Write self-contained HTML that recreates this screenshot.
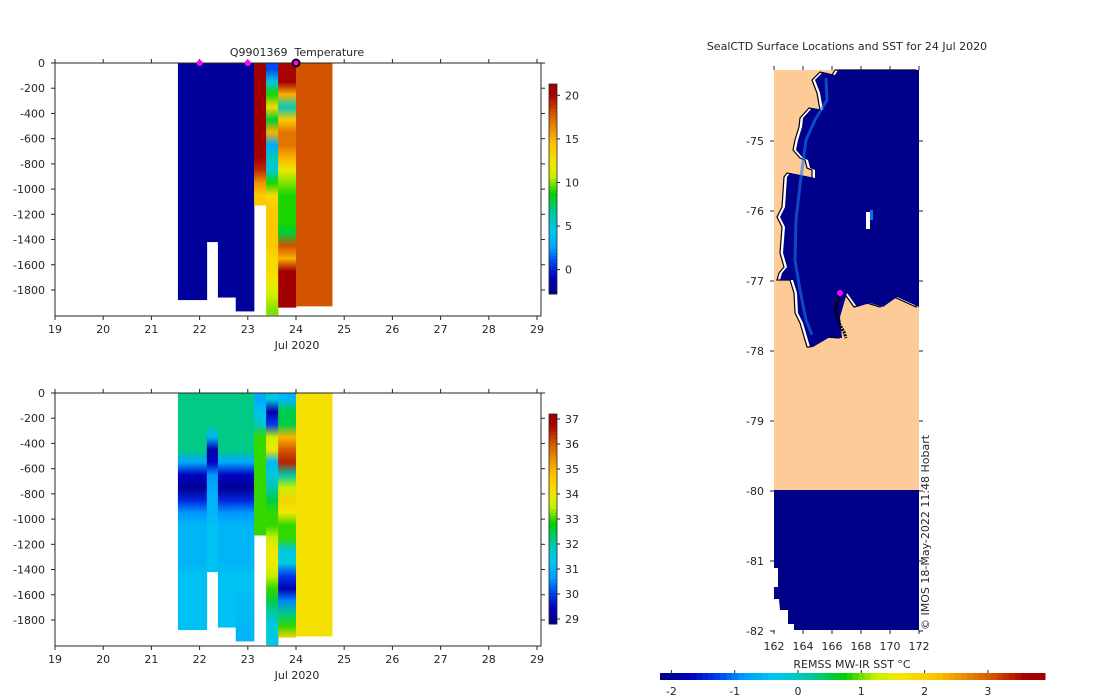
<!DOCTYPE html>
<html><head><meta charset="utf-8">
<style>
body{margin:0;background:#fff;}
svg{display:block;font-family:"DejaVu Sans","Liberation Sans",sans-serif;}
text{fill:#262626;font-size:11px;}
</style></head>
<body>
<svg id="fig" width="1100" height="700" viewBox="0 0 1100 700" xmlns="http://www.w3.org/2000/svg">
<defs id="defs"></defs>
<g id="g1"></g>
<g id="g2"></g>
<g id="g3"></g>
</svg>
<script>
// ---- profile data (time in days of Jul 2020, depth bins of 100 m) ----
const profStart = [21.55, 22.15, 22.38, 22.75, 23.13, 23.38, 23.63, 24.0];
const profEnd   = [22.15, 22.38, 22.75, 23.13, 23.38, 23.63, 24.0, 24.75];
const profBottomT = [1880, 1420, 1860, 1970, 1130, 2000, 1940, 1930];
const profBottomS = [1880, 1420, 1860, 1970, 1130, 2000, 1940, 1930];
const tempVals = [
 [-2,-2,-2,-2,-2,-2,-2,-2,-2,-2,-2,-2,-2,-2,-2,-2,-2,-2,-2],
 [-2,-2,-2,-2,-2,-2,-2,-2,-2,-2,-2,-2,-2,-2,-2],
 [-2,-2,-2,-2,-2,-2,-2,-2,-2,-2,-2,-2,-2,-2,-2,-2,-2,-2,-2],
 [-2,-2,-2,-2,-2,-2,-2,-2,-2,-2,-2,-2,-2,-2,-2,-2,-2,-2,-2,-2],
 [21,21,21,21,21,21,21,21,19,16,14,14],
 [1,5,9,13,8,15,3,6,5,9,13,14,14,14,14,13,13,12,11,10],
 [20,21,15,6,14,17,17,15,12,10,9,9,9,8,18,15,21,21,21,21],
 [18,18,18,18,18,18,18,18,18,18,18,18,18,18,18,18,18,18,18,18]
];
const salVals = [
 [32.2,32.2,32.2,32.2,32.2,30.8,29.5,29,29.8,30.6,31,31,31,31,31.2,31.2,31.2,31.2,31.2],
 [32.2,32.2,32.2,31,29.2,29.5,30.6,30.8,31,31,31.2,31.2,31.2,31.2,31.2],
 [32.2,32.2,32.2,32.2,32.2,30.8,29.5,29,29.8,30.6,31,31,31,31,31.2,31.2,31.2,31.2,31.2],
 [32.2,32.2,32.2,32.2,32.2,30.8,29.5,29,29.8,30.6,31,31,31,31,31.2,31.2,31.1,31.1,31,31],
 [30.8,31.2,31.8,33,33,33,33,33,33,33,33,33],
 [31.5,29.2,30,33.5,34,31,31.5,32,32.5,33,33,33.5,34,34,33.5,33,32.5,32,31.5,31.5],
 [31,32.5,32.5,35,36,36.5,32,33.5,34.5,34,33,33,31.5,31.5,30,29.3,30.5,32.2,33,34.5],
 [34.2,34.2,34.2,34.2,34.2,34.2,34.2,34.2,34.2,34.2,34.2,34.2,34.2,34.2,34.2,34.2,34.2,34.2,34.2,34.2]
];
const markerDays = [22.0, 23.0];
const currentDay = [24.0];
const xTicks = [19,20,21,22,23,24,25,26,27,28,29];
const yTicks = [0,-200,-400,-600,-800,-1000,-1200,-1400,-1600,-1800];
const tempCbTicks = [0,5,10,15,20];
const salCbTicks = [29,30,31,32,33,34,35,36,37];
const lonTicks = [162,164,166,168,170,172];
const latTicks = [-75,-76,-77,-78,-79,-80,-81,-82];
const sstTicks = [-2,-1,0,1,2,3];

const NS='http://www.w3.org/2000/svg';
function el(tag, attrs, parent){const e=document.createElementNS(NS,tag);for(const k in attrs)e.setAttribute(k,attrs[k]);parent.appendChild(e);return e;}
const defs=document.getElementById('defs');

const stops=[[0,[0,0,128]],[0.08,[0,0,192]],[0.15,[0,64,240]],[0.22,[0,160,255]],[0.3,[0,200,240]],[0.38,[0,200,176]],[0.48,[0,208,0]],[0.56,[200,240,0]],[0.62,[240,232,0]],[0.72,[255,192,0]],[0.85,[216,96,0]],[0.95,[168,0,0]],[1,[160,0,0]]];
function cmap(t){t=Math.max(0,Math.min(1,t));for(let i=1;i<stops.length;i++){if(t<=stops[i][0]){const a=stops[i-1],b=stops[i];const f=(t-a[0])/(b[0]-a[0]);const c=a[1].map((v,j)=>Math.round(v+(b[1][j]-v)*f));return `rgb(${c[0]},${c[1]},${c[2]})`;}}return 'rgb(160,0,0)';}

let gid=0;
function section(g, top, vals, bottoms, vmin, vmax, cbTicks, withTitle){
  const L=55,R=541,T=top,B=top+253;
  const xs=d=>55+(d-19)*48.2;
  const ys=z=>T+z*0.1261;
  for(let p=0;p<vals.length;p++){
    const v=vals[p];
    const id='grad'+(gid++);
    const lg=el('linearGradient',{id:id,gradientUnits:'userSpaceOnUse',x1:0,x2:0,y1:ys(0),y2:ys(bottoms[p])},defs);
    for(let i=0;i<v.length;i++){
      const mid=Math.min(i*100+50,bottoms[p]);
      if(i*100>=bottoms[p])break;
      el('stop',{offset:(mid/bottoms[p]).toFixed(4),'stop-color':cmap((v[i]-vmin)/(vmax-vmin))},lg);
    }
    const r=el('rect',{x:xs(profStart[p]),y:ys(0),width:xs(profEnd[p])-xs(profStart[p])+0.3,height:ys(bottoms[p])-ys(0),fill:`url(#${id})`},g);
    
    
  }
  const box=el('rect',{x:L,y:T,width:R-L,height:B-T,fill:'none',stroke:'#262626','stroke-width':1},g);
  
  xTicks.forEach(d=>{const x=xs(d);
    el('line',{x1:x,y1:B,x2:x,y2:B+4,stroke:'#262626'},g);
    el('line',{x1:x,y1:T,x2:x,y2:T-4,stroke:'#262626'},g);
    const t=el('text',{x:x,y:B+17,'text-anchor':'middle'},g);t.textContent=d;
    });
  yTicks.forEach(z=>{const y=ys(-z);
    el('line',{x1:L,y1:y,x2:L-4,y2:y,stroke:'#262626'},g);
    el('line',{x1:R,y1:y,x2:R+4,y2:y,stroke:'#262626'},g);
    const t=el('text',{x:45,y:y+4,'text-anchor':'end'},g);t.textContent=z;
    });
  const xl=el('text',{x:297,y:B+33,'text-anchor':'middle'},g);xl.textContent='Jul 2020';
  
  const cT=T+21,cB=T+231,cL=549,cW=8;
  const N=60;
  for(let i=0;i<N;i++){const r=el('rect',{x:cL,y:cB-(i+1)*(cB-cT)/N,width:cW,height:(cB-cT)/N+0.5,fill:cmap((i+0.5)/N)},g);
    }
  el('rect',{x:cL,y:cT,width:cW,height:cB-cT,fill:'none',stroke:'#262626','stroke-width':0.8},g);
  cbTicks.forEach(v=>{const y=cB-(v-vmin)/(vmax-vmin)*(cB-cT);
    el('line',{x1:cL+cW,y1:y,x2:cL+cW+3,y2:y,stroke:'#262626'},g);
    const t=el('text',{x:565,y:y+4},g);t.textContent=v;
    });
  if(withTitle){
    const t=el('text',{x:297,y:T-7,'text-anchor':'middle','font-size':'12'},g);t.textContent='Q9901369  Temperature';
    t.setAttribute('xml:space','preserve');t.style.whiteSpace='pre';
    
    markerDays.forEach(d=>{const c=el('circle',{cx:xs(d),cy:T,r:3,fill:'#ff00ff'},g);
      });
    currentDay.forEach(d=>{const c=el('circle',{cx:xs(d),cy:T,r:3.5,fill:'#ff00ff',stroke:'#000','stroke-width':2},g);
      });
  }
}
section(document.getElementById('g1'),63,tempVals,profBottomT,-2.8,21.3,tempCbTicks,true);
section(document.getElementById('g2'),393,salVals,profBottomS,28.8,37.2,salCbTicks,false);

// ---- map ----
(function(){
 const g=document.getElementById('g3');
 const lx=v=>774+(v-162)*14.5, ly=v=>141+(-75-v)*70;
 const t=el('text',{x:847,y:50,'text-anchor':'middle'},g);t.textContent='SealCTD Surface Locations and SST for 24 Jul 2020';
 
 const land=el('rect',{x:774,y:70,width:145,height:420,fill:'#fdcb98'},g);
 
 const pts='838,70 835,75 823,72 815,80 820,93 823,110 812,108 803,118 802,127 798,140 796,150 803,158 808,160 810,168 815,170 815,178 790,173 787,177 785,207 780,217 785,227 783,253 787,267 782,273 780,280 793,280 797,293 798,313 803,323 810,347 813,347 830,337 842,338 840,317 847,293 857,307 870,303 883,307 897,297 919,307 919,70';
 const white=el('polygon',{points:pts,fill:'#fff',stroke:'#000','stroke-width':1.2,transform:'translate(-3,0)'},g);
 
 const sea=el('polygon',{points:pts,fill:'#000088',stroke:'none'},g);
 
 const edge=el('polyline',{points:'826,78 827,100 815,120 806,140 800,185 796,220 795,260 800,290 806,320 812,335',fill:'none',stroke:'#1878f0','stroke-width':3,'stroke-opacity':0.6},g);
 
 el('rect',{x:866,y:212,width:4,height:17,fill:'#fff'},g);
 el('rect',{x:870,y:210,width:3,height:10,fill:'#1070e8'},g);
 const trk=el('polyline',{points:'840,292 838,300 835,310 838,318 840,325 844,332 846,338',fill:'none',stroke:'#000','stroke-width':3,'stroke-dasharray':'2 1'},g);
 
 const pos=el('circle',{cx:840,cy:293,r:3,fill:'#ff00ff'},g);
 
 const south=el('polygon',{points:'774,490 919,490 919,630 794,630 794,624 788,624 788,610 780,610 779,599 774,599 774,587 778,587 778,568 774,568',fill:'#000088'},g);
 
 lonTicks.forEach(v=>{const x=lx(v);
   el('line',{x1:x,y1:630,x2:x,y2:634,stroke:'#262626'},g);
   el('line',{x1:x,y1:70,x2:x,y2:66,stroke:'#262626'},g);
   const tt=el('text',{x:x,y:650,'text-anchor':'middle'},g);tt.textContent=v;
   });
 latTicks.forEach(v=>{const y=ly(v);
   el('line',{x1:774,y1:y,x2:770,y2:y,stroke:'#262626'},g);
   el('line',{x1:919,y1:y,x2:923,y2:y,stroke:'#262626'},g);
   const tt=el('text',{x:764,y:y+4,'text-anchor':'end'},g);tt.textContent=v;
   });
 const cr=el('text',{x:0,y:0,transform:'translate(929,630) rotate(-90)','font-size':'10'},g);cr.textContent='© IMOS 18-May-2022 11:48 Hobart';
 
 const cl=el('text',{x:852,y:668,'text-anchor':'middle'},g);cl.textContent='REMSS MW-IR SST °C';
 
 const sx=v=>798+v*63.3;
 const N=64;
 for(let i=0;i<N;i++){const r=el('rect',{x:660+i*385/N,y:673,width:385/N+0.5,height:7,fill:cmap((i+0.5)/N)},g);
   }
 sstTicks.forEach(v=>{const x=sx(v);
   el('line',{x1:x,y1:673,x2:x,y2:670,stroke:'#262626'},g);
   const tt=el('text',{x:x,y:695,'text-anchor':'middle'},g);tt.textContent=v;
   });
})();
</script>
</body></html>
